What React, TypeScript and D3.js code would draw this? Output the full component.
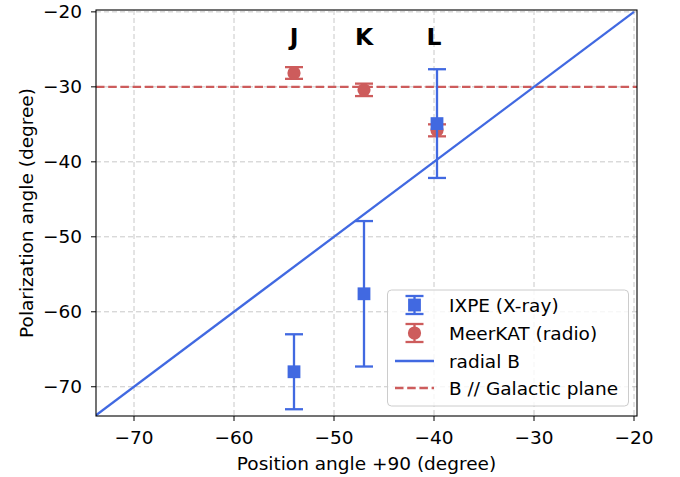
import React from "react";
import * as d3 from "d3";

const regions = ["J", "K", "L"];
const posAngle = [-54, -47, -39.7];
const ixpeAngle = [-68, -57.6, -34.9];
const ixpeErr = [5, 9.7, 7.25];
const meerAngle = [-28.15, -30.4, -35.8];
const meerErr = [0.78, 0.83, 0.8];
const labelX = [-54, -47, -40];
const xTicks = [-70, -60, -50, -40, -30, -20];
const yTicks = [-70, -60, -50, -40, -30, -20];
const radialRange = [-74, -20];
const galacticPA = -30;

const BLUE = "#4169E1";
const RED = "#CD5C5C";
const FONT = "DejaVu Sans, sans-serif";
const FS = 18.5;

export default function App() {
  const W = 680, H = 477;
  const L = 96, R = 637, T = 10, B = 416;
  const x = d3.scaleLinear().domain([-73.8, -19.7]).range([L, R]);
  const y = d3.scaleLinear().domain([-73.9, -19.75]).range([B, T]);
  const cap = 9;
  const lw = 2.3;
  const line = d3.line<[number, number]>().x(d => x(d[0])).y(d => y(d[1]));
  const radial = line([[radialRange[0], radialRange[0]], [radialRange[1], radialRange[1]]]) || "";

  const legendItems = ["IXPE (X-ray)", "MeerKAT (radio)", "radial B", "B // Galactic plane"];
  const legRowY = [305, 333, 361, 388];
  const hx = 414.5;

  return (
    <svg width={W} height={H} style={{ position: "absolute", left: 0, top: 0, background: "white" }} fontFamily={FONT}>
      <defs>
        <clipPath id="plot"><rect x={L} y={T} width={R - L} height={B - T} /></clipPath>
      </defs>
      {/* grid */}
      <g stroke="#b0b0b0" strokeOpacity={0.7} strokeWidth={1} strokeDasharray="5,3">
        {xTicks.map(t => <line key={"gx" + t} x1={x(t)} x2={x(t)} y1={T} y2={B} />)}
        {yTicks.map(t => <line key={"gy" + t} x1={L} x2={R} y1={y(t)} y2={y(t)} />)}
      </g>
      <g clipPath="url(#plot)">
        <line x1={L} x2={R} y1={y(galacticPA)} y2={y(galacticPA)} stroke={RED} strokeWidth={lw} strokeDasharray="8.5,3.7" />
        <path d={radial} stroke={BLUE} strokeWidth={lw} fill="none" />
        {posAngle.map((p, i) => (
          <g key={"m" + i} stroke={RED} strokeWidth={lw}>
            <line x1={x(p)} x2={x(p)} y1={y(meerAngle[i] - meerErr[i])} y2={y(meerAngle[i] + meerErr[i])} />
            <line x1={x(p) - cap} x2={x(p) + cap} y1={y(meerAngle[i] - meerErr[i])} y2={y(meerAngle[i] - meerErr[i])} />
            <line x1={x(p) - cap} x2={x(p) + cap} y1={y(meerAngle[i] + meerErr[i])} y2={y(meerAngle[i] + meerErr[i])} />
            <circle cx={x(p)} cy={y(meerAngle[i])} r={6.6} fill={RED} stroke="none" />
          </g>
        ))}
        {posAngle.map((p, i) => (
          <g key={"x" + i} stroke={BLUE} strokeWidth={lw}>
            <line x1={x(p)} x2={x(p)} y1={y(ixpeAngle[i] - ixpeErr[i])} y2={y(ixpeAngle[i] + ixpeErr[i])} />
            <line x1={x(p) - cap} x2={x(p) + cap} y1={y(ixpeAngle[i] - ixpeErr[i])} y2={y(ixpeAngle[i] - ixpeErr[i])} />
            <line x1={x(p) - cap} x2={x(p) + cap} y1={y(ixpeAngle[i] + ixpeErr[i])} y2={y(ixpeAngle[i] + ixpeErr[i])} />
            <rect x={x(p) - 6.4} y={y(ixpeAngle[i]) - 6.4} width={12.8} height={12.8} fill={BLUE} stroke="none" />
          </g>
        ))}
      </g>
      {regions.map((r, i) => (
        <text key={r} x={x(labelX[i])} y={y(-23.4)} textAnchor="middle" dominantBaseline="central" fontSize={23.5} fontWeight="bold" fill="black">{r}</text>
      ))}
      <rect x={L} y={T} width={R - L} height={B - T} fill="none" stroke="black" strokeWidth={1.1} />
      {xTicks.map(t => (
        <g key={"tx" + t}>
          <line x1={x(t)} x2={x(t)} y1={B} y2={B + 5} stroke="black" strokeWidth={1} />
          <text x={x(t)} y={444} textAnchor="middle" fontSize={FS} fill="black">{"\u2212" + Math.abs(t)}</text>
        </g>
      ))}
      {yTicks.map(t => (
        <g key={"ty" + t}>
          <line x1={L - 5} x2={L} y1={y(t)} y2={y(t)} stroke="black" strokeWidth={1} />
          <text x={82} y={y(t)} textAnchor="end" dominantBaseline="central" fontSize={FS} fill="black">{"\u2212" + Math.abs(t)}</text>
        </g>
      ))}
      <text x={(L + R) / 2} y={470} textAnchor="middle" fontSize={FS} fill="black">Position angle +90 (degree)</text>
      <text transform={`translate(26,${(T + B) / 2}) rotate(-90)`} textAnchor="middle" dominantBaseline="central" fontSize={FS} fill="black">Polarization angle (degree)</text>
      {/* legend */}
      <rect x={387.5} y={290} width={241} height={116} rx={4} fill="white" fillOpacity={0.8} stroke="#cccccc" strokeWidth={1} />
      <g stroke={BLUE} strokeWidth={lw}>
        <line x1={hx} x2={hx} y1={legRowY[0] - 9} y2={legRowY[0] + 9} />
        <line x1={hx - cap} x2={hx + cap} y1={legRowY[0] - 9} y2={legRowY[0] - 9} />
        <line x1={hx - cap} x2={hx + cap} y1={legRowY[0] + 9} y2={legRowY[0] + 9} />
        <rect x={hx - 6.4} y={legRowY[0] - 6.4} width={12.8} height={12.8} fill={BLUE} stroke="none" />
      </g>
      <g stroke={RED} strokeWidth={lw}>
        <line x1={hx} x2={hx} y1={legRowY[1] - 9} y2={legRowY[1] + 9} />
        <line x1={hx - cap} x2={hx + cap} y1={legRowY[1] - 9} y2={legRowY[1] - 9} />
        <line x1={hx - cap} x2={hx + cap} y1={legRowY[1] + 9} y2={legRowY[1] + 9} />
        <circle cx={hx} cy={legRowY[1]} r={6.6} fill={RED} stroke="none" />
      </g>
      <line x1={395} x2={434} y1={legRowY[2]} y2={legRowY[2]} stroke={BLUE} strokeWidth={lw} />
      <line x1={395} x2={434} y1={legRowY[3]} y2={legRowY[3]} stroke={RED} strokeWidth={lw} strokeDasharray="8.5,3.7" />
      {legendItems.map((s, i) => (
        <text key={s} x={449} y={legRowY[i]} dominantBaseline="central" fontSize={FS} fill="black">{s}</text>
      ))}
    </svg>
  );
}
